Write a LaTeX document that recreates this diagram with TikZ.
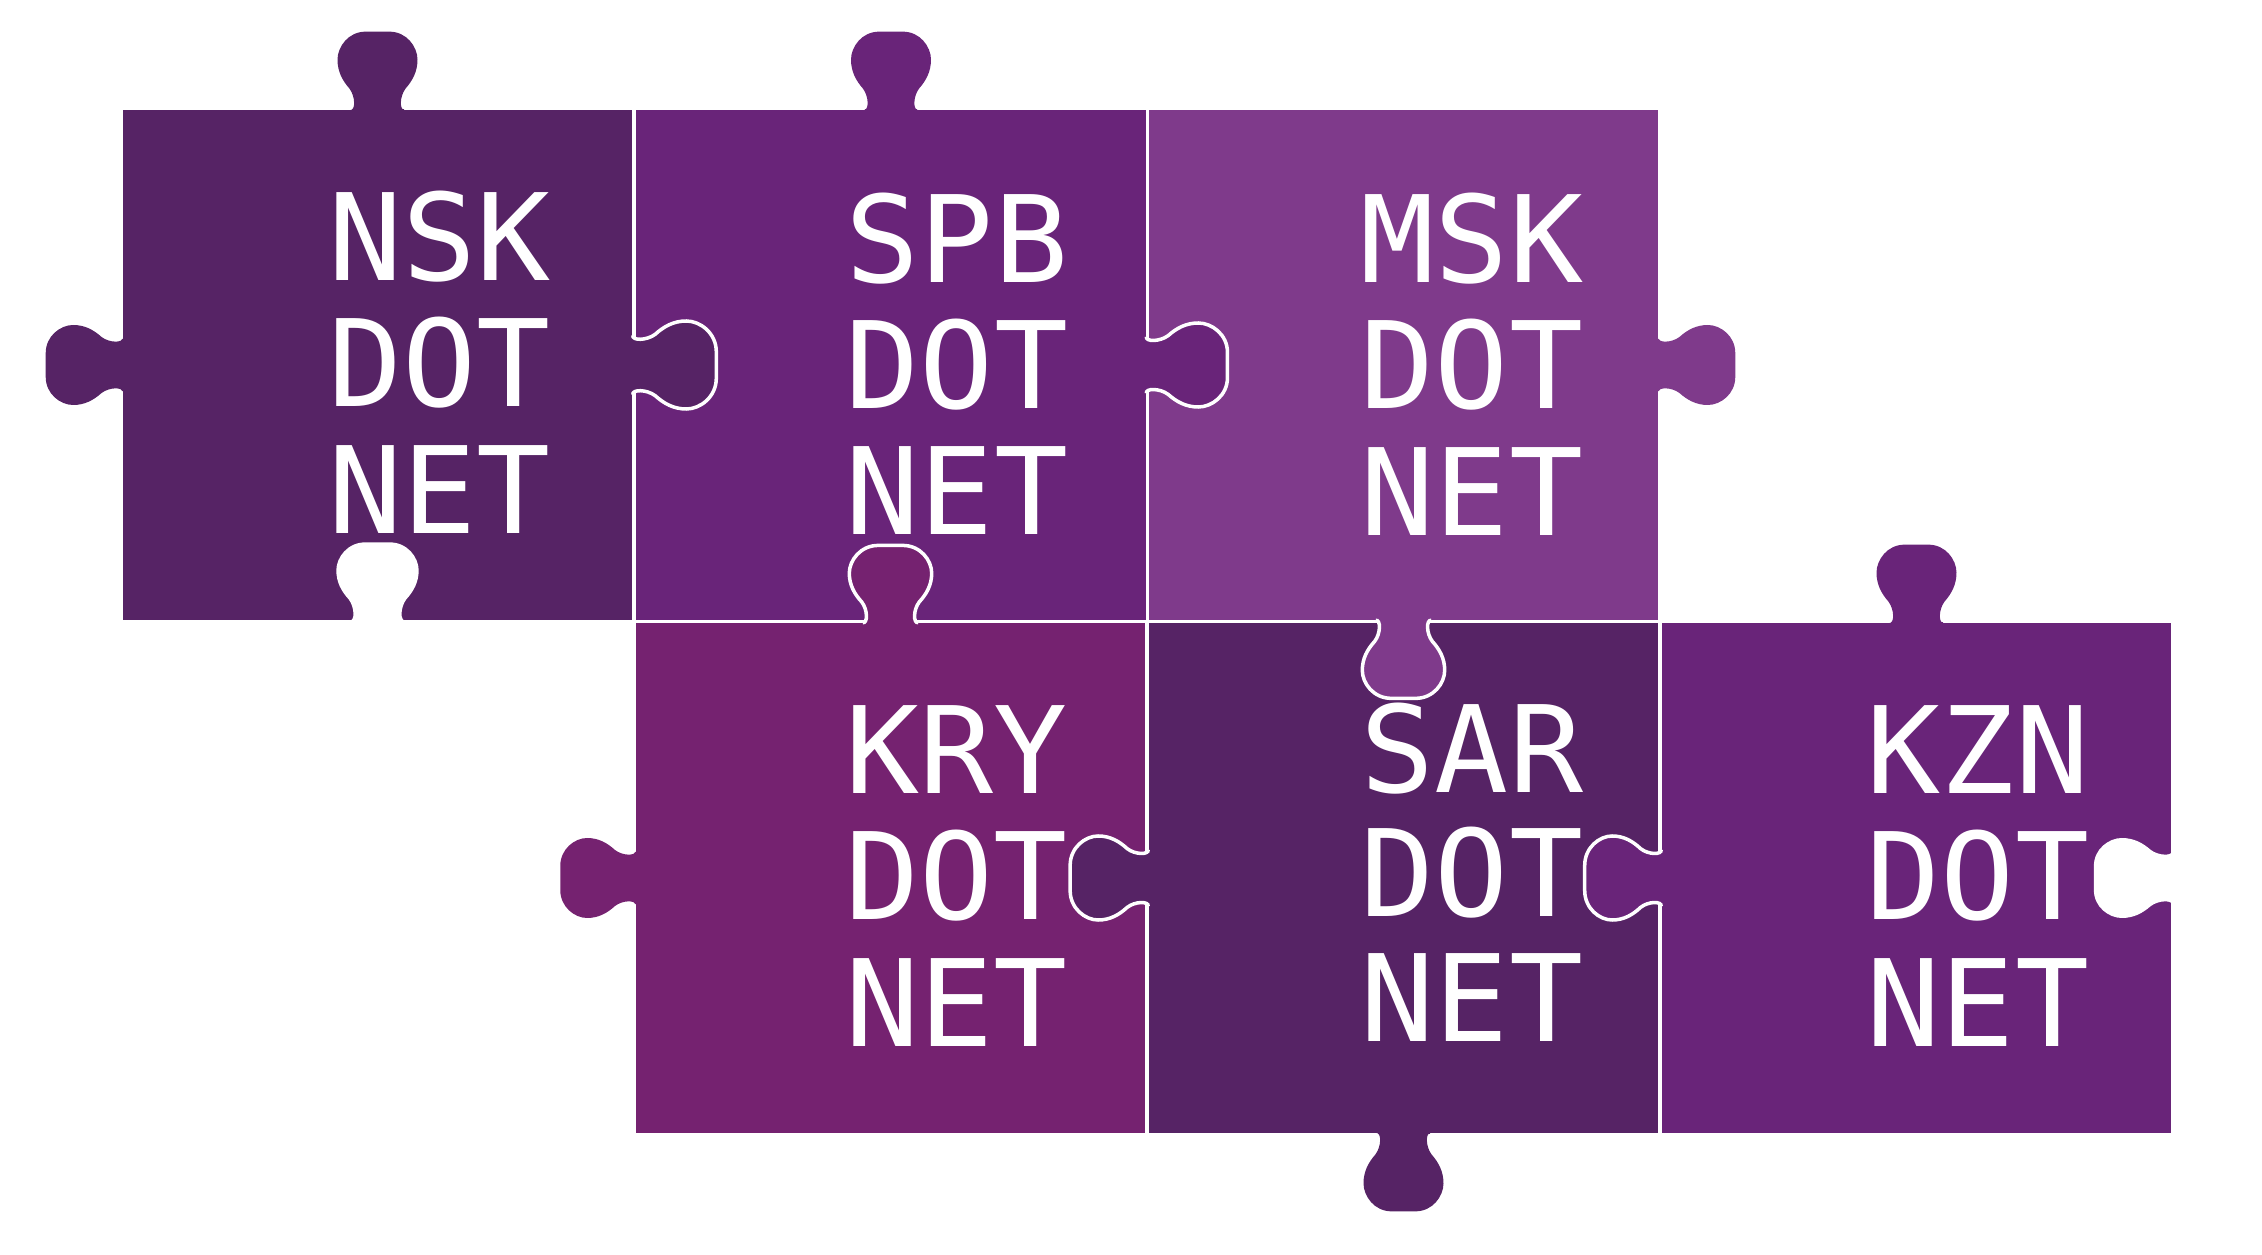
\documentclass[tikz,border=0pt]{standalone}
\usepackage{fontspec}
\setmainfont[FakeStretch=1.02]{DejaVu Sans Mono}
\usepackage{xcolor}
\definecolor{nskColor}{HTML}{562365}
\definecolor{spbColor}{HTML}{692479}
\definecolor{mskColor}{HTML}{7F3A8B}
\definecolor{kryColor}{HTML}{752270}
\tikzset{
  pieceNode/.style = {rectangle, inner sep=0pt, minimum width=5.09cm, minimum height=5.09cm},
  labelNode/.style = {align=left, inner sep=0pt, white, font=\fontsize{34.3}{35.9}\selectfont},
  joinTab/.style = {draw=white, line width=1pt},% tab lying over its neighbour
  pics/tab/.style = {code={
    \path[pic actions, draw=none] (-26,-2) rectangle (26,0.5);
    \path[pic actions] (-27,0) .. controls (-22,-1) and (-22,13) .. (-28,21)
      .. controls (-35,29) and (-40,38) .. (-40,50)
      .. controls (-40,63) and (-29,78) .. (-12,78) -- (12,78)
      .. controls (29,78) and (40,63) .. (40,50)
      .. controls (40,38) and (35,29) .. (28,21)
      .. controls (22,13) and (22,-1) .. (27,0);
  }},
}
\begin{document}
\begin{tikzpicture}[x=0.01cm,y=-0.01cm]
\useasboundingbox (0,0) rectangle (2262,1255);
% pieces
\node [pieceNode, fill=nskColor] (nsk) at (377.5,365) {};
\node [pieceNode, fill=spbColor] (spb) at (891,365) {};
\node [pieceNode, fill=mskColor] (msk) at (1403.5,365) {};
\node [pieceNode, fill=kryColor] (kry) at (890.5,878) {};
\node [pieceNode, fill=nskColor] (sar) at (1403.5,878) {};
\node [pieceNode, fill=spbColor] (kzn) at (1916.5,878) {};
% tabs on the outside
\pic [rotate=180, fill=nskColor] at (nsk.north) {tab};
\pic [rotate=-90, fill=nskColor, yscale=0.98] at (nsk.west) {tab};
\pic [rotate=180, fill=spbColor] at (spb.north) {tab};
\pic [rotate=90, fill=mskColor, yscale=0.98] at (msk.east) {tab};
\pic [rotate=-90, fill=kryColor, yscale=0.96] at (kry.west) {tab};
\pic [rotate=0, fill=nskColor] at (sar.south) {tab};
\pic [rotate=180, fill=spbColor] at (kzn.north) {tab};
% empty sockets
\pic [rotate=180, fill=white, xscale=1.03] at (nsk.south) {tab};
\pic [rotate=-90, fill=white] at (kzn.east) {tab};
% tabs lying over the neighbour
\pic [rotate=90, fill=nskColor, joinTab, xscale=1.1, yscale=1.07] at (nsk.east) {tab};
\pic [rotate=90, fill=spbColor, joinTab, xscale=1.05, yscale=1.04] at (spb.east) {tab};
\pic [rotate=180, fill=kryColor, joinTab, xscale=1.03, yscale=0.99] at (kry.north) {tab};
\pic [rotate=0, fill=mskColor, joinTab, xscale=1.03] at (msk.south) {tab};
\pic [rotate=-90, fill=nskColor, joinTab, xscale=1.05] at (sar.west) {tab};
\pic [rotate=-90, fill=spbColor, joinTab, xscale=1.05, yscale=0.98] at (kzn.west) {tab};
% labels
\node [labelNode] (nskLabel) at (439.5,362) {NSK\\DOT\\NET};
\node [labelNode] (spbLabel) at (957,363.5) {SPB\\DOT\\NET};
\node [labelNode] (mskLabel) at (1472,364) {MSK\\DOT\\NET};
\node [labelNode] (kryLabel) at (956.5,876) {KRY\\DOT\\NET};
\node [labelNode, font=\fontsize{34.3}{35.4}\selectfont] (sarLabel) at (1472,872) {SAR\\DOT\\NET};
\node [labelNode] (kznLabel) at (1978,876) {KZN\\DOT\\NET};
\end{tikzpicture}
\end{document}
